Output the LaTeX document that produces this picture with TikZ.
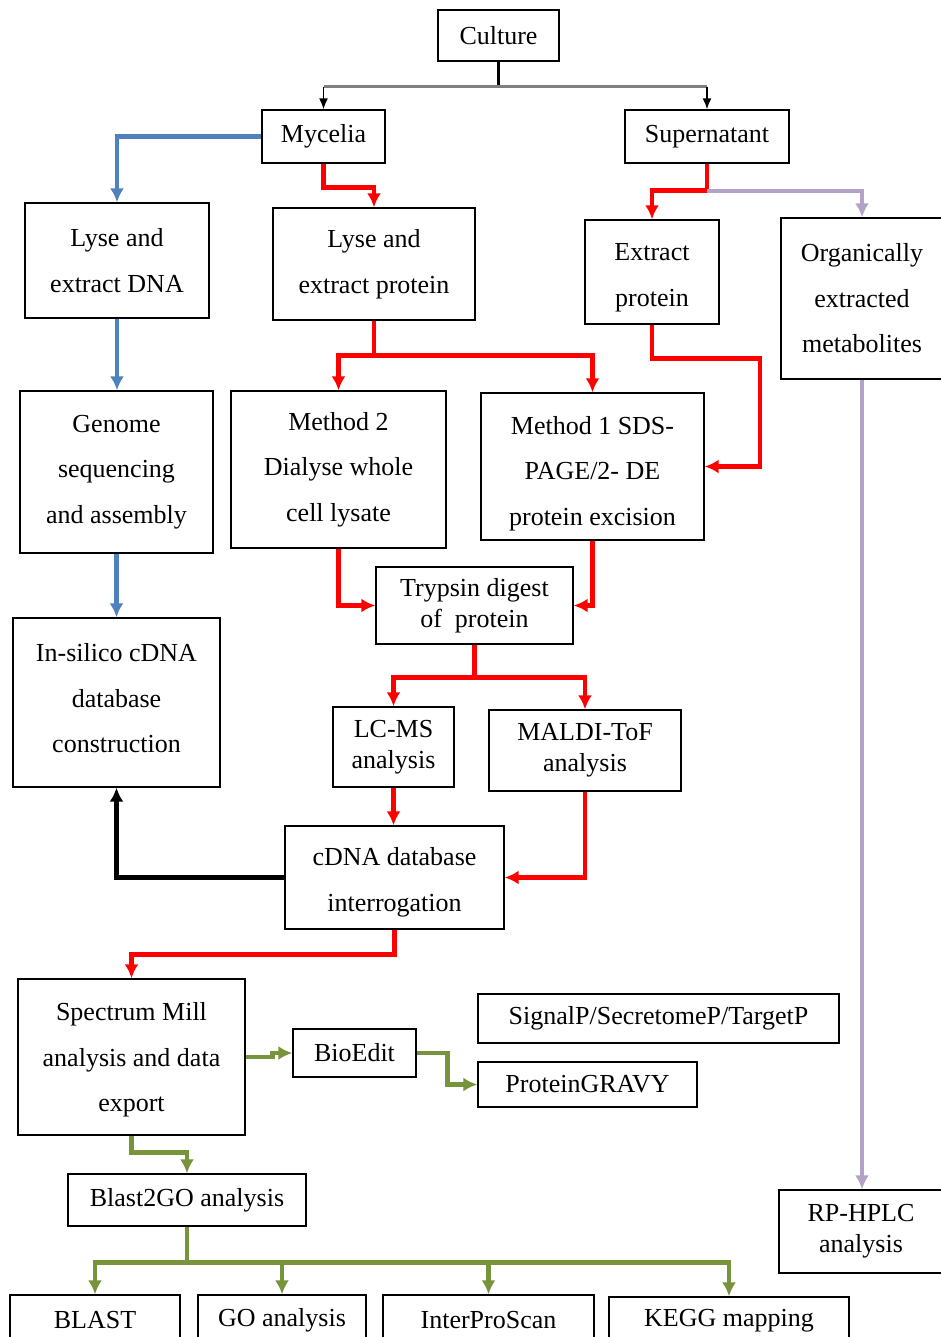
\documentclass[tikz,border=0pt]{standalone}
\usepackage{fontspec}
\setmainfont{Liberation Serif}
\usetikzlibrary{arrows.meta}
\definecolor{flowred}{HTML}{FF0000}
\definecolor{flowblue}{HTML}{4F81BD}
\definecolor{flowpurple}{HTML}{B3A2C7}
\definecolor{flowgreen}{HTML}{77933C}
\begin{document}
\begin{tikzpicture}[x=1pt,y=-1pt,
  box/.style={draw, line width=1.4pt, inner sep=0pt, align=center},
  dbl/.style={font={\fontsize{26}{45.5}\selectfont}},
  sgl/.style={font={\fontsize{26}{31}\selectfont}},
  flow/.style={line width=4.6pt, line join=miter, -{Latex[length=14pt,width=14pt]}},
  plainflow/.style={line width=4.6pt},
  redflow/.style={flow, draw=flowred},
  blueflow/.style={flow, draw=flowblue},
  purpleflow/.style={flow, draw=flowpurple, line width=4pt},
  greenflow/.style={flow, draw=flowgreen},
  blackflow/.style={flow, draw=black, line width=5pt},
  thinarrow/.style={line width=1.5pt, -{Latex[length=11pt,width=9pt]}}]
\fill[white] (0,0) rectangle (941,1337);
\useasboundingbox (0,0) rectangle (941,1337);

% boxes
\node[box,sgl,minimum width=121pt,minimum height=51pt] (culture) at (498.5,35.5) {Culture};
\node[box,sgl,minimum width=123pt,minimum height=53pt] (mycelia) at (323.5,136.5) {Mycelia};
\node[box,sgl,minimum width=164pt,minimum height=53pt] (super) at (707,136.5) {Supernatant};
\node[box,dbl,minimum width=184pt,minimum height=115pt] (lysedna) at (117,260.5) {Lyse and\\extract DNA};
\node[box,dbl,minimum width=202pt,minimum height=112pt] (lyseprot) at (374,264) {Lyse and\\extract protein};
\node[box,minimum width=134pt,minimum height=104pt,
  label={[dbl,align=center,yshift=-6pt]center:Extract\\protein}] (extprot) at (652,272) {};
\node[box,dbl,minimum width=162pt,minimum height=161pt] (organic) at (862,298.5) {Organically\\extracted\\metabolites};
\node[box,dbl,minimum width=193pt,minimum height=162pt] (genome) at (116.5,472) {Genome\\sequencing\\and assembly};
\node[box,dbl,minimum width=215pt,minimum height=157pt] (method2) at (338.5,469.5) {Method 2\\Dialyse whole\\cell lysate};
\node[box,minimum width=223pt,minimum height=147pt,
  label={[dbl,align=center,yshift=-7pt]center:Method 1 SDS-\\PAGE/2- DE\\protein excision}] (method1) at (592.5,466.5) {};
\node[box,sgl,minimum width=197pt,minimum height=77pt] (trypsin) at (474.5,605.5) {Trypsin digest\\of~ protein};
\node[box,minimum width=207pt,minimum height=169pt,
  label={[dbl,align=center,yshift=4pt]center:In-silico cDNA\\database\\construction}] (insilico) at (116.5,702.5) {};
\node[box,sgl,minimum width=121pt,minimum height=80pt] (lcms) at (393.5,747) {LC-MS\\analysis};
\node[box,sgl,minimum width=192pt,minimum height=81pt] (maldi) at (585,750.5) {MALDI-ToF\\analysis};
\node[box,minimum width=219pt,minimum height=103pt,
  label={[dbl,align=center,yshift=-5pt]center:cDNA database\\interrogation}] (cdna) at (394.5,877.5) {};
\node[box,minimum width=227pt,minimum height=156pt,
  label={[dbl,align=center,yshift=-3pt]center:Spectrum Mill\\analysis and data\\export}] (spectrum) at (131.5,1057) {};
\node[box,sgl,minimum width=361pt,minimum height=49pt] (signalp) at (658.5,1018.5) {SignalP/SecretomeP/TargetP};
\node[box,sgl,minimum width=123pt,minimum height=48pt] (bioedit) at (354.5,1053) {BioEdit};
\node[box,sgl,minimum width=219pt,minimum height=45pt] (gravy) at (587.5,1084.5) {ProteinGRAVY};
\node[box,sgl,minimum width=238pt,minimum height=52pt] (blast2go) at (187,1200) {Blast2GO analysis};
\node[box,sgl,minimum width=170pt,minimum height=50pt] (blast) at (95,1320) {BLAST};
\node[box,sgl,minimum width=168pt,minimum height=50pt] (go) at (282,1320) {GO analysis};
\node[box,sgl,minimum width=211pt,minimum height=50pt] (ipscan) at (488.5,1320) {InterProScan};
\node[box,sgl,minimum width=240pt,minimum height=48pt] (kegg) at (729,1321) {KEGG mapping};
\node[box,sgl,minimum width=164pt,minimum height=83pt] (rphplc) at (861,1231.5) {RP-HPLC\\analysis};

% culture split
\draw[line width=2.2pt] (culture.south) -- ++(0,25) coordinate (cj);
\draw[line width=3pt, draw=gray] (mycelia.north |- cj) -- (super.north |- cj);
\draw[thinarrow] (mycelia.north |- cj) -- (mycelia.north);
\draw[thinarrow] (super.north |- cj) -- (super.north);

% genome branch
\draw[blueflow] (mycelia.west) -| (lysedna.north);
\draw[blueflow] (lysedna.south) -- (lysedna.south |- genome.north);
\draw[blueflow] (genome.south) -- (genome.south |- insilico.north);

% protein branch
\draw[redflow] (mycelia.south) -- ++(0,24) -| (lyseprot.north);
\draw[plainflow, draw=flowred] (lyseprot.south) -- ++(0,35) coordinate (lp);
\draw[redflow] (lp) -| (method2.north);
\draw[redflow] (lp) -| (method1.north);
\draw[plainflow, draw=flowred] (super.south) -- ++(0,27) coordinate (sp);
\draw[purpleflow] (sp) -| (organic.north);
\draw[redflow] (sp) -| (extprot.north);
\draw[redflow] (extprot.south) -- ++(0,34) -- ++(108,0) |- (method1.east);
\draw[purpleflow] (organic.south) -- (organic.south |- rphplc.north);
\draw[redflow] (method2.south) |- (trypsin.west);
\draw[redflow] (method1.south) |- (trypsin.east);
\draw[plainflow, draw=flowred] (trypsin.south) -- ++(0,33) coordinate (tp);
\draw[redflow] (tp) -| (lcms.north);
\draw[redflow] (tp) -| (maldi.north);
\draw[redflow] (lcms.south) -- (lcms.south |- cdna.north);
\draw[redflow] (maldi.south) |- (cdna.east);
\draw[blackflow] (cdna.west) -| (insilico.south);
\draw[redflow] (cdna.south) -- ++(0,25) -| (spectrum.north);

% annotation tools
\draw[greenflow] (spectrum.east) -- ++(27,0) |- (bioedit.west);
\draw[greenflow] (bioedit.east) -- ++(31,0) |- (gravy.west);
\draw[greenflow] (spectrum.south) -- ++(0,17) -| (blast2go.north);
\draw[plainflow, draw=flowgreen] (blast2go.south) -- ++(0,36) coordinate (gp);
\draw[greenflow] (gp) -| (blast.north);
\draw[greenflow] (gp) -| (go.north);
\draw[greenflow] (gp) -| (ipscan.north);
\draw[greenflow] (gp) -| (kegg.north);
\end{tikzpicture}
\end{document}
